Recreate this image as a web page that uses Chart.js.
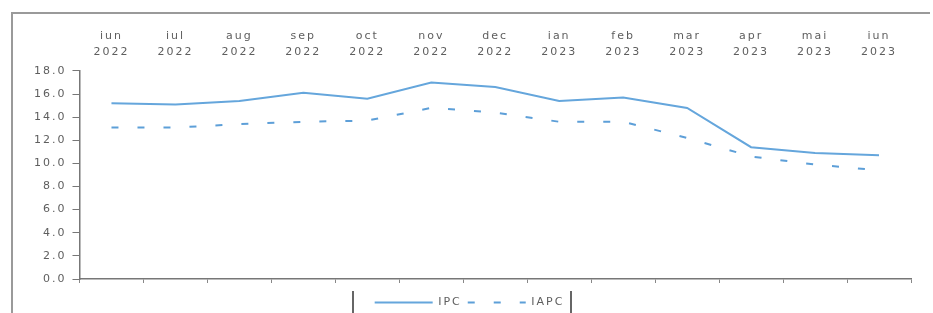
<!DOCTYPE html>
<html>
<head>
<meta charset="utf-8">
<script src="https://cdn.jsdelivr.net/npm/chart.js@4.4.0/dist/chart.umd.min.js"></script>
<style>
  html, body { margin: 0; padding: 0; background: #fff; }
  #wrap { position: relative; width: 933px; height: 313px; }
  #frame { position: absolute; left: 11px; top: 12px; right: 3px; bottom: -2px;
           border-top: 2px solid #9a9a9a; border-left: 2px solid #9a9a9a; }
  #legbox { position: absolute; left: 352px; top: 291px; width: 216px; height: 30px;
            border-left: 2px solid #666; border-right: 2px solid #666; }
</style>
</head>
<body>
<div id="wrap">
  <div id="frame"></div>
  <div id="legbox"></div>
  <canvas id="c" width="933" height="313"></canvas>
</div>
<script>
// months shown on the top axis
const months = [
  ['iun', '2022'], ['iul', '2022'], ['aug', '2022'], ['sep', '2022'], ['oct', '2022'],
  ['nov', '2022'], ['dec', '2022'], ['ian', '2023'], ['feb', '2023'], ['mar', '2023'],
  ['apr', '2023'], ['mai', '2023'], ['iun', '2023']
];
const ipc  = [15.2, 15.1, 15.4, 16.1, 15.6, 17.0, 16.6, 15.4, 15.7, 14.8, 11.4, 10.9, 10.7];
const iapc = [13.1, 13.1, 13.4, 13.6, 13.7, 14.8, 14.4, 13.6, 13.6, 12.2, 10.6, 9.9, 9.4];

const txt = '#5e5e5e';
const font = { family: 'DejaVu Sans', size: 11 };

// the scanned labels are widely spaced
const spacing = {
  id: 'spacing',
  beforeUpdate(c) { c.ctx.letterSpacing = '2px'; },
  beforeDraw(c) { c.ctx.letterSpacing = '2px'; }
};

new Chart(document.getElementById('c'), {
  type: 'line',
  data: {
    labels: months,
    datasets: [
      { label: 'IPC', data: ipc, borderColor: '#65a6dc', borderWidth: 2,
        pointRadius: 0, tension: 0, xAxisID: 'x' },
      { label: 'IAPC', data: iapc, borderColor: '#5d9fd8', borderWidth: 2,
        borderDash: [7, 19], pointRadius: 0, tension: 0, xAxisID: 'x' }
    ]
  },
  plugins: [spacing],
  options: {
    responsive: false,
    animation: false,
    layout: { padding: { left: 28, right: 22, top: 25, bottom: -5 } },
    plugins: {
      tooltip: { enabled: false },
      legend: {
        position: 'bottom',
        labels: {
          usePointStyle: true, pointStyle: 'line', pointStyleWidth: 58,
          color: txt, font: { family: 'DejaVu Sans', size: 11 }, boxHeight: 10, padding: 6,
          generateLabels: chart => Chart.defaults.plugins.legend.labels.generateLabels(chart)
            .map((l, i) => ({ ...l, lineWidth: 2, lineDash: chart.data.datasets[i].borderDash || [] }))
        }
      }
    },
    scales: {
      x: {
        position: 'top', offset: true,
        grid: { display: false }, border: { display: false },
        ticks: { color: txt, font: { family: 'DejaVu Sans', size: 11, lineHeight: 1.45 },
                 maxRotation: 0, padding: 3 }
      },
      x2: {
        type: 'category', labels: months, position: 'bottom', offset: true,
        afterFit: s => { s.height = 12; },
        grid: { offset: true, drawOnChartArea: false, tickLength: 4, color: '#888' },
        border: { display: true, color: '#777', width: 1.5 },
        ticks: { display: false }
      },
      y: {
        min: 0, max: 18,
        grid: { drawOnChartArea: false, tickLength: 7, color: '#777' },
        border: { display: true, color: '#777', width: 1.5 },
        ticks: { stepSize: 2, color: txt, font: font, padding: 6,
                 callback: v => v.toFixed(1) }
      }
    }
  }
});
</script>
</body>
</html>
